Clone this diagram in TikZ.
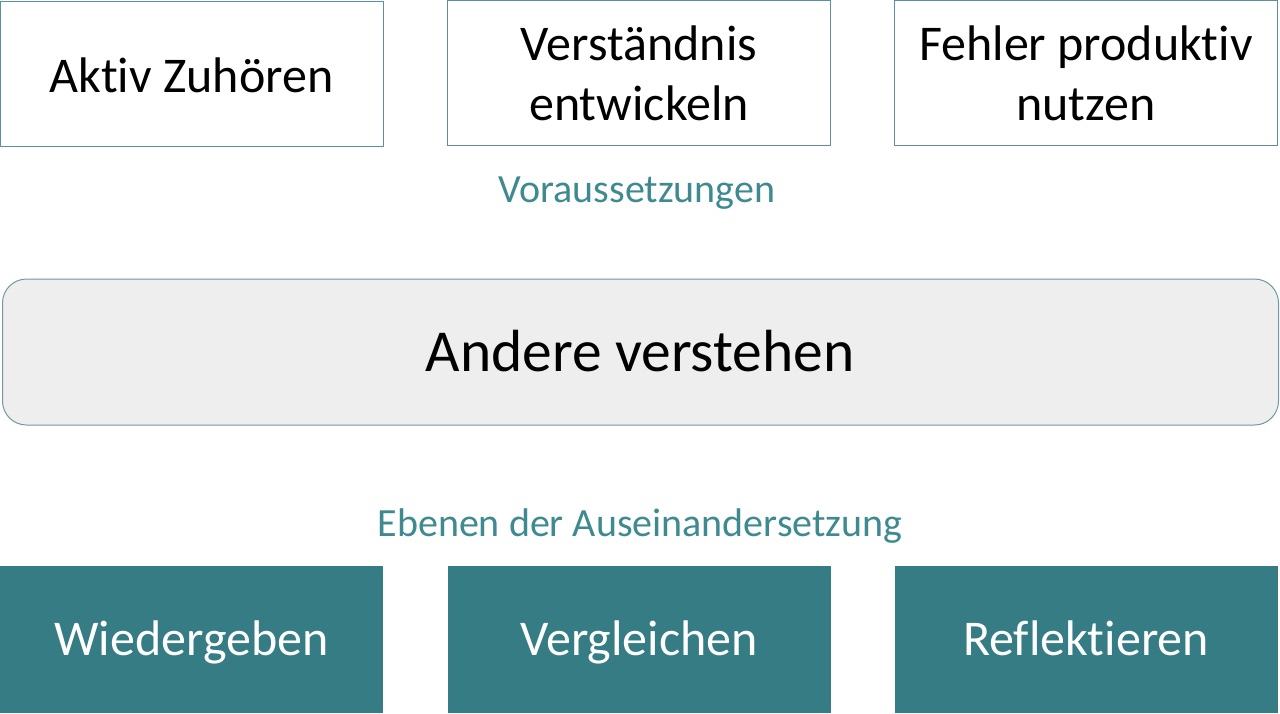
\documentclass[tikz,border=0pt]{standalone}
\usepackage{fontspec}
\setmainfont[Ligatures={NoCommon}]{Carlito}
\definecolor{tealline}{HTML}{5A929B}
\definecolor{tealfill}{HTML}{367C85}
\definecolor{tealtext}{HTML}{3E8A90}
\definecolor{midfill}{HTML}{EEEEEE}
\definecolor{midline}{HTML}{7099A3}
\tikzset{
  topbox/.style={draw=tealline, line width=1pt, fill=white, minimum width=383pt, minimum height=145pt, inner sep=0pt},
  botbox/.style={fill=tealfill, minimum width=383pt, minimum height=147pt, inner sep=0pt},
  midbox/.style={draw=midline, line width=1pt, fill=midfill, rounded corners=24pt, minimum width=1276pt, minimum height=146pt, inner sep=0pt},
  toptext/.style={anchor=base, inner sep=0pt, align=center, font=\fontsize{50}{60}\selectfont, text=black},
  bottext/.style={anchor=base, inner sep=0pt, font=\fontsize{50}{60}\selectfont, text=white},
  midtext/.style={anchor=base, inner sep=0pt, font=\fontsize{59.5}{70}\selectfont, text=black},
  seclabel/.style={anchor=base, font=\fontsize{40}{48}\selectfont, text=tealtext, inner sep=0pt}
}
\begin{document}
\begin{tikzpicture}[x=1pt,y=-1pt]
\useasboundingbox (0,0) rectangle (1280,713);
\fill[white] (0,0) rectangle (1280,713);
\node[topbox] (t1) at (191.5,74) {};
\node[topbox] (t2) at (639,73) {};
\node[topbox] (t3) at (1086,73) {};
\node[toptext] (t1txt) at (191.5,92) {Aktiv Zuhören};
\node[toptext] (t2txt) at (639,120) {Verständnis\\entwickeln};
\node[toptext] (t3txt) at (1086,120) {Fehler produktiv\\nutzen};
\node[seclabel] (l1) at (637,202) {Voraussetzungen};
\node[midbox] (m) at (640.5,352) {};
\node[midtext] (mtxt) at (640,371.5) {Andere verstehen};
\node[seclabel] (l2) at (640,536.5) {Ebenen der Auseinandersetzung};
\node[botbox] (b1) at (191.5,639.5) {};
\node[botbox] (b2) at (639,639.5) {};
\node[botbox] (b3) at (1086,639.5) {};
\node[bottext] (b1txt) at (191.5,655) {Wiedergeben};
\node[bottext] (b2txt) at (639,655) {Vergleichen};
\node[bottext] (b3txt) at (1086,655) {Reflektieren};
\end{tikzpicture}
\end{document}
